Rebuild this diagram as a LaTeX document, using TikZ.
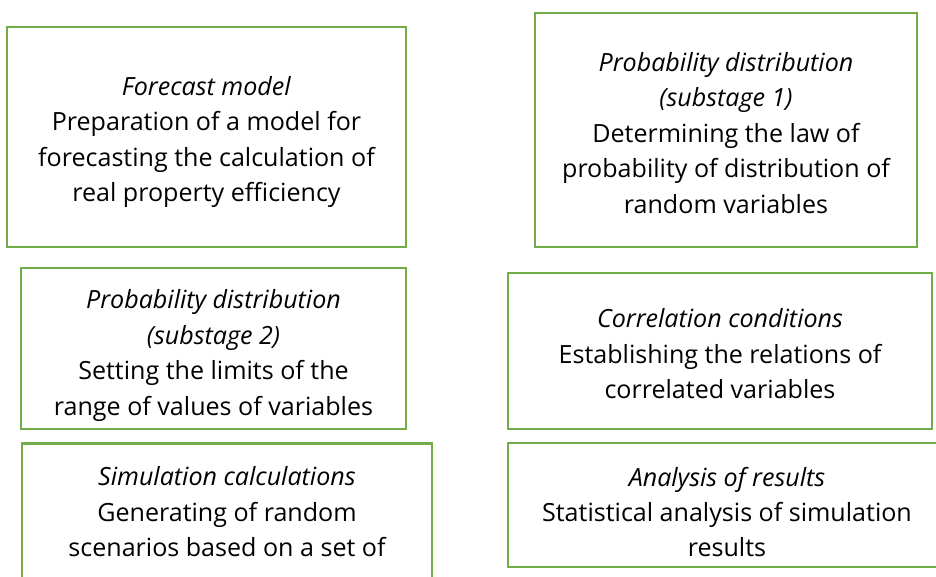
\documentclass[tikz,border=0pt]{standalone}
\usepackage{fontspec}
\usetikzlibrary{calc}
\setmainfont{Open Sans}
\definecolor{boxgreen}{HTML}{70AD47}
\begin{document}
\begin{tikzpicture}[x=0.75pt,y=-0.75pt,
  stagebox/.style={draw=boxgreen,line width=1.7pt,inner sep=0pt},
  stagetext/.style={align=center,inner sep=0pt,
    font=\fontsize{18.8}{26.6}\selectfont}]
\useasboundingbox (0,0) rectangle (936,576);
\clip (0,0) rectangle (936,576);
% frames
\node[stagebox,minimum width=299.25pt,minimum height=165pt] (fm) at (206.5,137) {};
\node[stagebox,minimum width=286.5pt,minimum height=175.5pt] (pd1) at (726,130) {};
\node[stagebox,minimum width=288.75pt,minimum height=120.75pt] (pd2) at (213.5,348.5) {};
\node[stagebox,minimum width=318pt,minimum height=117pt] (cc) at (720,351) {};
\node[stagebox,minimum width=307.5pt,minimum height=126.75pt] (sc) at (227,528) {};
\node[stagebox,minimum width=328.5pt,minimum height=93pt] (ar) at (727,505) {};
% texts
\node[stagetext] (fmt) at ($(fm.center)+(0,5)$)
  {\textit{Forecast model}\\Preparation of a model for\\forecasting the calculation of\\real property efficiency};
\node[stagetext] (pd1t) at ($(pd1.center)+(0,3)$)
  {\textit{Probability distribution}\\\textit{(substage 1)}\\Determining the law of\\probability of distribution of\\random variables};
\node[stagetext] (pd2t) at ($(pd2.center)+(0,7)$)
  {\textit{Probability distribution}\\\textit{(substage 2)}\\Setting the limits of the\\range of values of variables};
\node[stagetext] (cct) at ($(cc.center)+(0,3)$)
  {\textit{Correlation conditions}\\Establishing the relations of\\correlated variables};
\node[stagetext] (sct) at ($(sc.center)+(0,-16)$)
  {\textit{Simulation calculations}\\Generating of random\\scenarios based on a set of};
\node[stagetext] (art) at ($(ar.center)+(0,7)$)
  {\textit{Analysis of results}\\Statistical analysis of simulation\\results};
\end{tikzpicture}
\end{document}
